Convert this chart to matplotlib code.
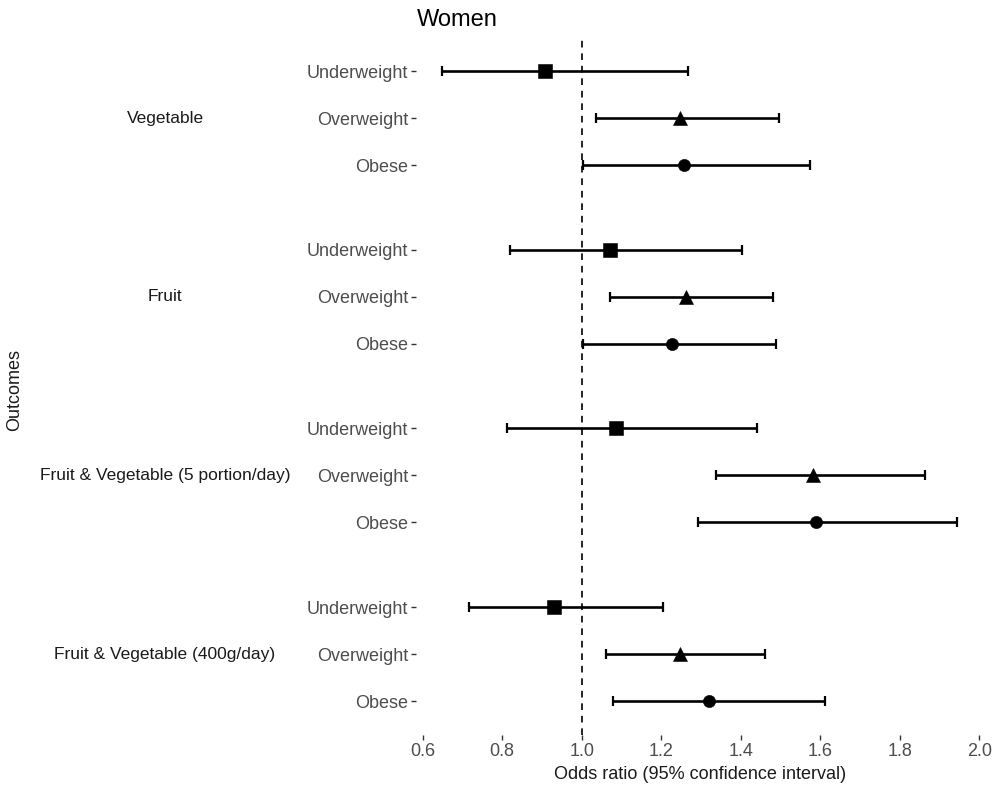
import matplotlib
matplotlib.use("Agg")
import matplotlib.pyplot as plt
import matplotlib.transforms as mtransforms

plt.rcParams['font.family'] = ['Liberation Sans', 'DejaVu Sans']

groups = ["Vegetable", "Fruit", "Fruit & Vegetable (5 portion/day)", "Fruit & Vegetable (400g/day)"]
outcomes = ["Underweight", "Overweight", "Obese"]
markers = ["s", "^", "o"]

# odds ratios, lower CI, upper CI  (per group, order: Underweight, Overweight, Obese)
or_veg = [0.908, 1.247, 1.256]
lo_veg = [0.649, 1.035, 1.003]
hi_veg = [1.268, 1.497, 1.574]

or_fruit = [1.071, 1.262, 1.226]
lo_fruit = [0.820, 1.071, 1.004]
hi_fruit = [1.403, 1.480, 1.488]

or_fv5 = [1.085, 1.581, 1.590]
lo_fv5 = [0.813, 1.337, 1.292]
hi_fv5 = [1.442, 1.864, 1.944]

or_fv400 = [0.931, 1.246, 1.321]
lo_fv400 = [0.717, 1.061, 1.078]
hi_fv400 = [1.205, 1.461, 1.612]

ors = [or_veg, or_fruit, or_fv5, or_fv400]
los = [lo_veg, lo_fruit, lo_fv5, lo_fv400]
his = [hi_veg, hi_fruit, hi_fv5, hi_fv400]

xticks = [0.6, 0.8, 1.0, 1.2, 1.4, 1.6, 1.8, 2.0]

fig = plt.figure(figsize=(9.99, 7.85), dpi=100)
ax = fig.add_axes([0.4168, 0.0637, 0.9838 - 0.4168, 0.949 - 0.0637])

step = 3.8
ypos_all = []
ylabels_all = []
for g, grp in enumerate(groups):
    for r, oc in enumerate(outcomes):
        y = g * step + r
        ypos_all.append(y)
        ylabels_all.append(oc)
        val = ors[g][r]
        lo = los[g][r]
        hi = his[g][r]
        ax.errorbar([val], [y], xerr=[[val - lo], [hi - val]], fmt='none',
                    ecolor='black', elinewidth=1.9, capsize=3.6, capthick=1.6, zorder=2)
        ax.plot([val], [y], marker=markers[r], color='black', markeredgewidth=0.4,
                markersize=(10 if markers[r] == 's' else (10.5 if markers[r] == '^' else 8.8)),
                linestyle='none', zorder=3)

ax.axvline(1.0, color='black', linestyle=(0, (4, 3.5)), linewidth=1.2, zorder=1)

ax.set_xlim(0.584, 2.009)
ax.set_ylim(3 * step + 2 + 0.72, -0.66)

ax.set_xticks(xticks)
ax.set_xticklabels([f"{t:.1f}" for t in xticks])
ax.set_yticks(ypos_all)
ax.set_yticklabels(ylabels_all)

for s in ax.spines.values():
    s.set_visible(False)
ax.tick_params(axis='both', length=3.5, width=1.0, color='#333333',
               labelsize=13, labelcolor='#4D4D4D', pad=2.5)

# group labels
trans = mtransforms.blended_transform_factory(fig.transFigure, ax.transData)
for g, grp in enumerate(groups):
    ax.text(165 / 999, g * step + 1, grp, transform=trans, ha='center', va='center',
            fontsize=12.5, color='#1A1A1A')

ax.set_xlabel("Odds ratio (95% confidence interval)", fontsize=13, color='#1A1A1A', labelpad=4)
fig.text(15 / 999, 1 - 390 / 785, "Outcomes", rotation=90, ha='center', va='center',
         fontsize=13, color='#1A1A1A')
fig.text(417 / 999, 1 - 20 / 785, "Women", ha='left', va='center', fontsize=17, color='black')

fig.savefig("out.png", dpi=100)
